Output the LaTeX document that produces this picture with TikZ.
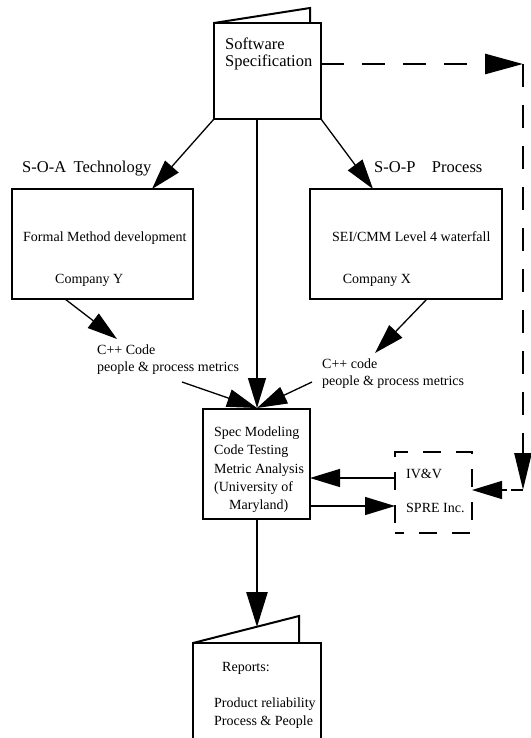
\documentclass[tikz,border=0pt]{standalone}
\usepackage{fontspec}
\setmainfont{Liberation Serif}
\usetikzlibrary{arrows.meta}
\tikzset{
  box/.style={draw, line width=1.2pt, inner sep=0, outer sep=0},
  txt/.style={font=\fontsize{14}{17}\selectfont, inner sep=0, anchor=base west},
  bigtxt/.style={font=\fontsize{16.5}{19}\selectfont, inner sep=0, anchor=base west},
  arr/.style={line width=1.3pt, -{Triangle[length=30pt,width=18pt]}},
  thickarr/.style={line width=2.7pt, -{Triangle[length=35pt,width=21pt]}},
  dasharr/.style={line width=2.7pt, dash pattern=on 23pt off 18pt},
  foldline/.style={line width=2pt},
}
\begin{document}
\begin{tikzpicture}[x=1pt,y=-1pt]
\useasboundingbox (0,0) rectangle (530,738);
% boxes
\node[box, minimum width=107pt, minimum height=96pt] (ss) at (267.5,71) {};
\node[box, minimum width=181pt, minimum height=110pt] (lb) at (102.5,244) {};
\node[box, minimum width=192pt, minimum height=110pt] (rb) at (406,244) {};
\node[box, minimum width=107pt, minimum height=110pt] (spec) at (256.5,464) {};
\node[draw, line width=2.6pt, dash pattern=on 18pt off 15pt, dash phase=9pt, inner sep=0, outer sep=0, minimum width=77pt, minimum height=81pt] (iv) at (433.5,492.5) {};
\node[box, minimum width=128pt, minimum height=110pt, anchor=north west] (rep) at (193,643) {};
% folds
\coordinate (ssf) at (310,8);
\draw[foldline] (ss.north west) -- (ssf) -- (310,23);
\coordinate (repf) at (299,616);
\draw[foldline] (rep.north west) -- (repf) -- (299,643);
% texts
\node[bigtxt] (t1) at (225,50) {Software};
\node[bigtxt] (t2) at (225,67) {Specification};
\node[bigtxt] (soa) at (22,173) {S-O-A\hspace{0.45em}Technology};
\node[bigtxt] (sop) at (374,173) {S-O-P\hspace{1em}Process};
\node[txt] (fm) at (23,241.5) {Formal Method development};
\node[txt] (cy) at (55,283) {Company Y};
\node[txt] (sei) at (332,241.5) {SEI/CMM Level 4 waterfall};
\node[txt] (cx) at (342.7,283) {Company X};
\node[txt] (cl1) at (97,354) {C++ Code};
\node[txt] (cl2) at (97,371.5) {people \& process metrics};
\node[txt] (cr1) at (322,368) {C++ code};
\node[txt] (cr2) at (322,385.5) {people \& process metrics};
\node[txt] (s1) at (214,436.5) {Spec Modeling};
\node[txt] (s2) at (214,454.8) {Code Testing};
\node[txt] (s3) at (214,473) {Metric Analysis};
\node[txt] (s4) at (214,491.3) {(University of};
\node[txt] (s5) at (229,509.6) {Maryland)};
\node[txt] (iv1) at (406,478) {IV\&V};
\node[txt] (iv2) at (406,512) {SPRE Inc.};
\node[txt] (r1) at (222,671) {Reports:};
\node[txt] (r2) at (214,707.5) {Product reliability};
\node[txt] (r3) at (214,725) {Process \& People};
% connector end points
\coordinate (lbtop) at (152,189);
\coordinate (rbtop) at (373,189);
\coordinate (ssbot) at (257,119);
\coordinate (spectop) at (257,408);
\coordinate (lbbot) at (65,299);
\coordinate (clin) at (117,339);
\coordinate (rbbot) at (427,299);
\coordinate (crin) at (375,353);
\coordinate (clout) at (182,382);
\coordinate (crout) at (312,382);
\coordinate (specbot) at (257,519);
\coordinate (repin) at (257,627);
\coordinate (ivl1) at (395,478);
\coordinate (specr1) at (310,478);
\coordinate (specr2) at (310,506);
\coordinate (ivl2) at (395,506);
\coordinate (ssr) at (321,64);
\coordinate (c1) at (523,64);
\coordinate (c2) at (523,490);
\coordinate (ivr) at (472,490);
% connectors
\draw[arr] (ss.south west) -- (lbtop);
\draw[arr] (ss.south east) -- (rbtop);
\draw[arr] (ssbot) -- (spectop);
\draw[arr] (lbbot) -- (clin);
\draw[arr] (rbbot) -- (crin);
\draw[arr] (clout) -- (spectop);
\draw[arr] (crout) -- (spectop);
\draw[thickarr] (specbot) -- (repin);
\draw[arr] (ivl1) -- (specr1);
\draw[arr] (specr2) -- (ivl2);
\draw[dasharr, -{Triangle[length=38pt,width=20pt]}] (ssr) -- (c1);
\draw[dasharr, -{Triangle[length=37pt,width=17pt]}] (c1) -- (c2);
\draw[line width=1.3pt, dash pattern=on 12pt off 4pt, -{Triangle[length=30pt,width=18pt]}] (c2) -- (ivr);
\end{tikzpicture}
\end{document}
